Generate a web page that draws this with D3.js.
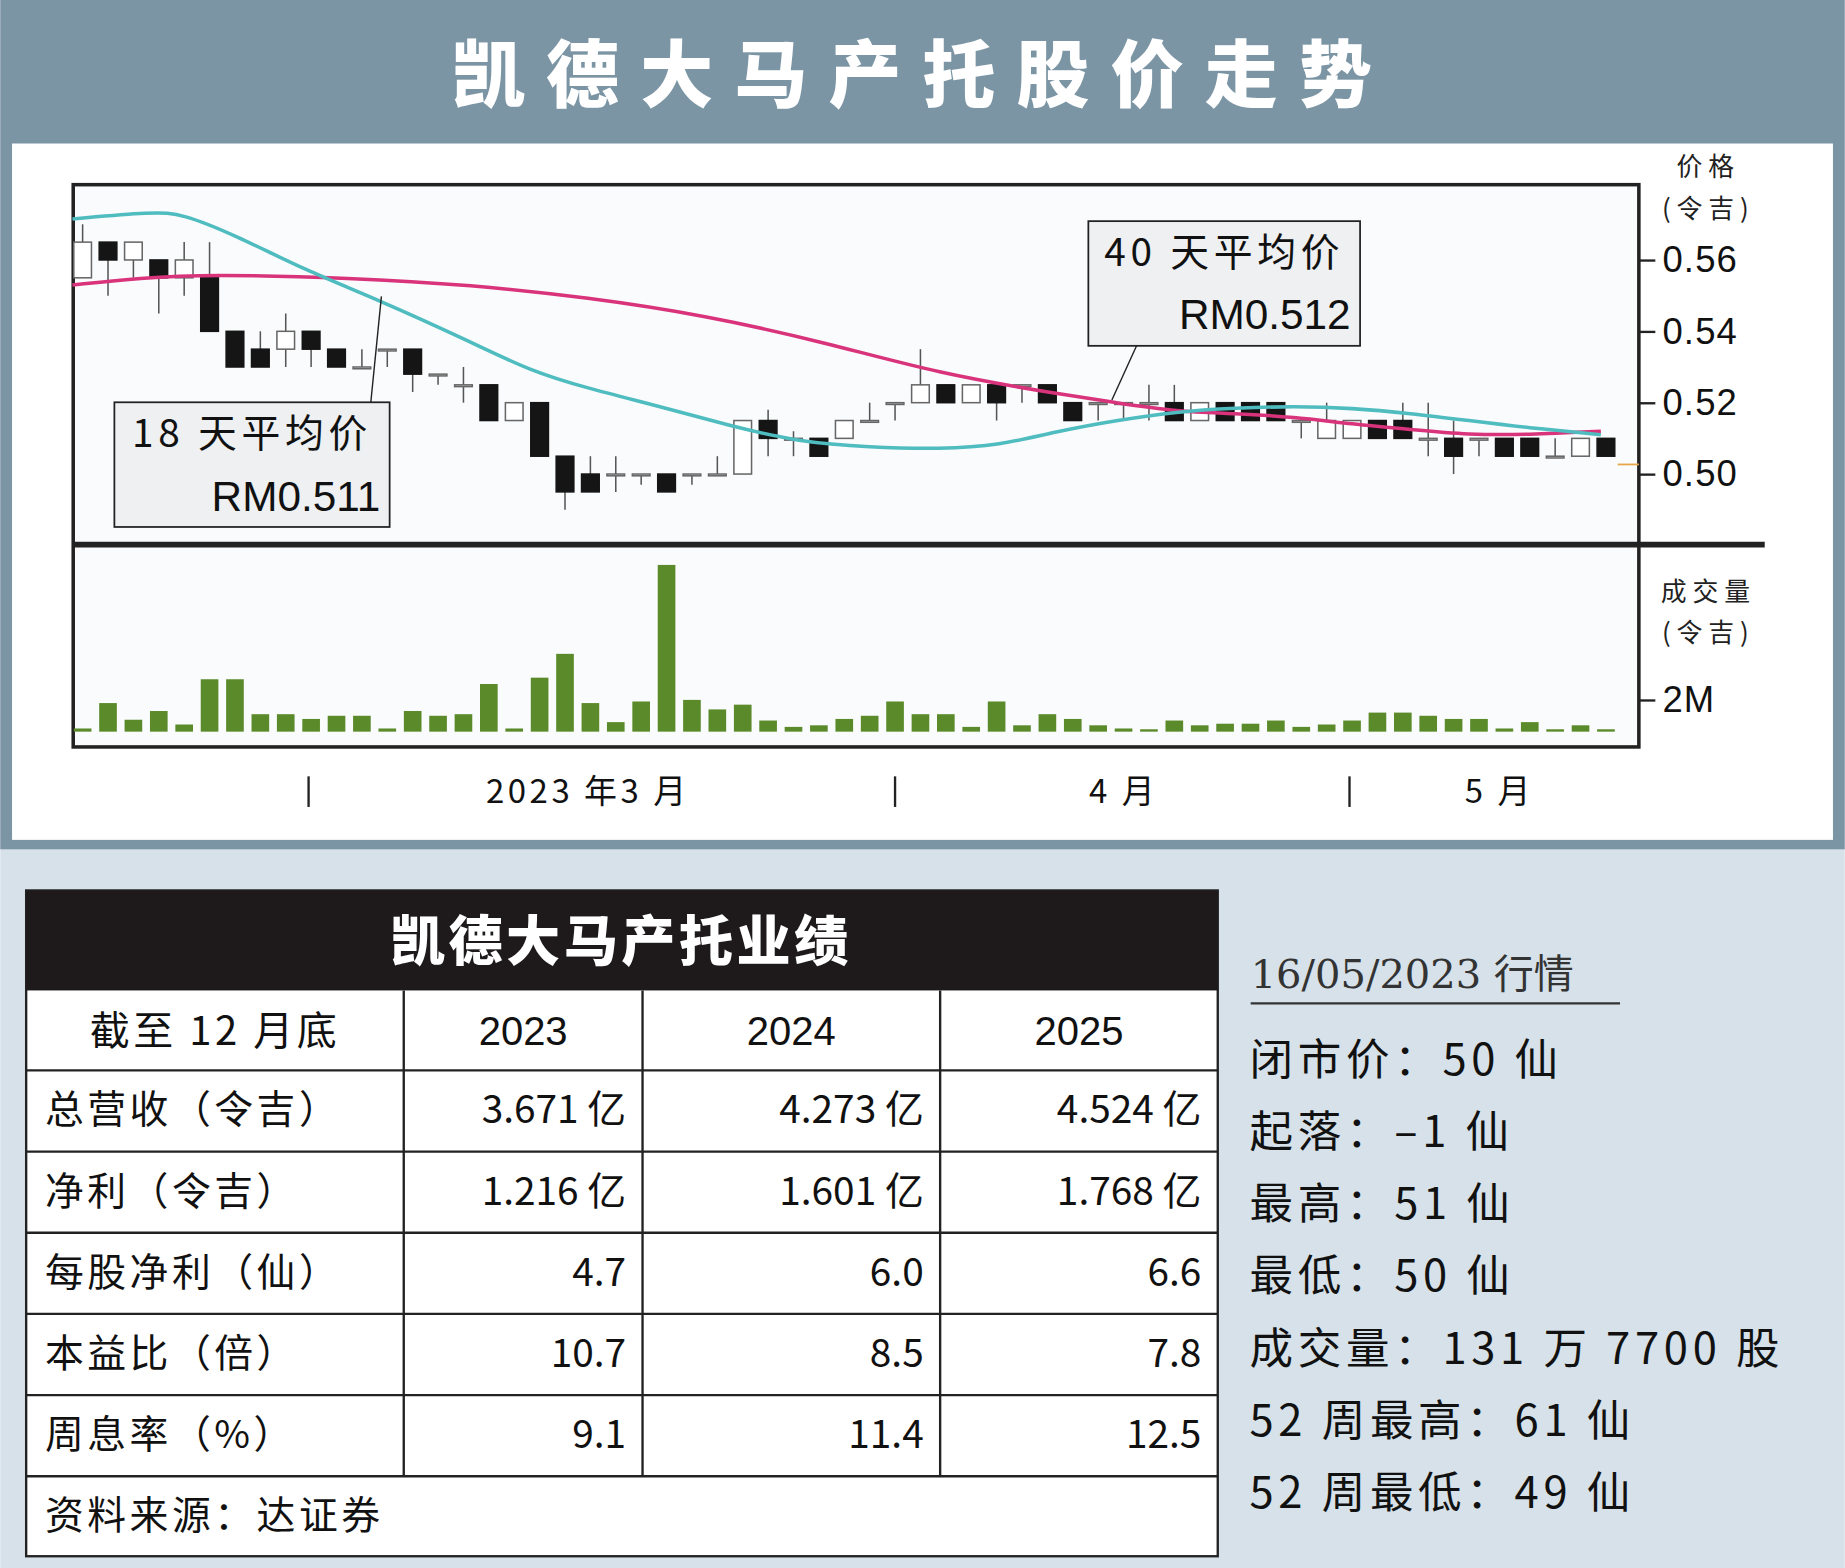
<!DOCTYPE html>
<html><head><meta charset="utf-8">
<script src="https://cdn.jsdelivr.net/npm/d3@7/dist/d3.min.js"></script>
<style>body{margin:0;background:#fff}svg{display:block}</style>
</head><body><div id="chart"></div>
<script>
// candles: open, close, high, low (RM)
const opens  = [.555,.565,.560,.560,.555,.555,.540,.535,.535,.540,.535,.530,.535,.535,.528,.525,.525,.515,.520,.505,.500,.500,.500,.500,.500,.500,.500,.515,.510,.510,.510,.515,.520,.520,.525,.520,.525,.525,.525,.520,.520,.520,.520,.520,.515,.520,.520,.520,.515,.510,.510,.515,.515,.510,.510,.510,.510,.510,.505,.505,.510];
const closes = [.565,.560,.565,.555,.560,.540,.530,.530,.540,.535,.530,.530,.535,.528,.528,.525,.515,.520,.505,.495,.495,.500,.500,.495,.500,.500,.515,.510,.510,.505,.515,.515,.520,.525,.520,.525,.520,.525,.520,.515,.520,.520,.520,.515,.520,.515,.515,.515,.515,.515,.515,.510,.510,.510,.505,.510,.505,.505,.505,.510,.505];
const highs  = [.570,.565,.565,.560,.565,.565,.540,.540,.545,.540,.535,.535,.535,.535,.528,.530,.525,.520,.520,.505,.505,.505,.500,.500,.500,.505,.515,.518,.512,.510,.515,.520,.520,.535,.525,.525,.525,.525,.525,.520,.520,.520,.525,.525,.520,.520,.520,.520,.515,.520,.515,.515,.520,.520,.515,.510,.510,.510,.510,.510,.510];
const lows   = [.555,.550,.555,.545,.550,.540,.530,.530,.530,.530,.530,.530,.530,.523,.525,.520,.515,.515,.505,.490,.495,.495,.497,.495,.497,.500,.500,.505,.505,.505,.510,.515,.515,.520,.520,.520,.515,.520,.520,.515,.515,.515,.515,.515,.515,.515,.515,.515,.510,.510,.510,.510,.510,.505,.500,.505,.505,.505,.505,.505,.505];
const volumes = [0.2,1.8,0.75,1.3,0.45,3.3,3.3,1.1,1.1,0.8,1.0,1.0,0.2,1.3,1.0,1.1,3.0,0.2,3.4,4.9,1.8,0.6,1.9,10.5,2.0,1.4,1.7,0.7,0.3,0.4,0.8,1.0,1.9,1.1,1.1,0.3,1.9,0.4,1.1,0.8,0.4,0.2,0.15,0.7,0.4,0.5,0.5,0.7,0.3,0.45,0.7,1.2,1.2,1.0,0.8,0.8,0.2,0.6,0.15,0.4,0.15];
// moving averages: [candle position, value]
const ma18 = [[-0.4,.5715],[2.8,.5735],[3.9,.5730],[6,.567],[8.8,.557],[11.6,.549],[15.3,.537],[17.6,.529],[19.9,.524],[22.7,.519],[25.5,.5135],[28.2,.509],[31,.5075],[33.8,.507],[36.1,.508],[38.4,.512],[40.7,.515],[43.1,.5175],[45.4,.5185],[47.7,.519],[50,.5185],[52.3,.517],[54.6,.515],[56.9,.513],[59.8,.511]];
const ma40 = [[-0.4,.553],[2.3,.555],[4.9,.556],[10.6,.555],[15.3,.553],[19.9,.5495],[24.5,.5445],[29.2,.537],[33.8,.528],[38.4,.5225],[40.7,.520],[43.1,.5175],[45.4,.517],[47.7,.516],[50,.514],[52.3,.5125],[54.6,.511],[56.9,.511],[59.8,.512]];
const priceTicks = [0.56, 0.54, 0.52, 0.50];
const months = [{pos: 19.9, label: "2023 年3 月"}, {pos: 41, label: "4 月"}, {pos: 55.8, label: "5 月"}];
const monthTicks = [8.9, 32, 49.9];
const tableHead = ["截至 12 月底", "2023", "2024", "2025"];
const tableRows = [
  ["总营收（令吉）", "3.671 亿", "4.273 亿", "4.524 亿"],
  ["净利（令吉）", "1.216 亿", "1.601 亿", "1.768 亿"],
  ["每股净利（仙）", "4.7", "6.0", "6.6"],
  ["本益比（倍）", "10.7", "8.5", "7.8"],
  ["周息率（%）", "9.1", "11.4", "12.5"]
];
const stats = ["闭市价：50 仙", "起落：–1 仙", "最高：51 仙", "最低：50 仙", "成交量：131 万 7700 股", "52 周最高：61 仙", "52 周最低：49 仙"];

const W = 1568, H = 1333;
const cjk = '"Noto Sans CJK SC", sans-serif';
const num = '"Liberation Sans", Arial, sans-serif';
const svg = d3.select('#chart').append('svg')
  .attr('width', 1845).attr('height', 1568)
  .attr('viewBox', `0 0 ${W} ${H}`);

// backgrounds
svg.append('rect').attr('width', W).attr('height', H).attr('fill', '#d6e1e9');
svg.append('rect').attr('x', 0).attr('y', 0).attr('width', W).attr('height', 722).attr('fill', '#7b95a4');
svg.append('rect').attr('x', 10).attr('y', 122).attr('width', 1548).attr('height', 592).attr('fill', '#fff');
svg.append('text').attr('x', 784).attr('y', 86).attr('text-anchor', 'middle')
  .attr('font-family', cjk).attr('font-weight', 900).attr('font-size', 62)
  .attr('letter-spacing', 18).attr('fill', '#fff').text('凯德大马产托股价走势');

// scales
const x = d3.scaleLinear().domain([0, 60]).range([70, 1365]);
const y = d3.scaleLinear().domain([0.50, 0.56]).range([403, 221]);
const yv = d3.scaleLinear().domain([0, 2]).range([622, 595]);

svg.append('rect').attr('x', 62).attr('y', 157).attr('width', 1331).attr('height', 478)
  .attr('fill', '#fafbfc').attr('stroke', '#222').attr('stroke-width', 3);

const cw = 15;
const candles = svg.append('g').selectAll('g').data(d3.range(opens.length)).enter().append('g');
candles.append('line')
  .attr('x1', i => x(i)).attr('x2', i => x(i))
  .attr('y1', i => y(highs[i])).attr('y2', i => y(lows[i]))
  .attr('stroke', '#555').attr('stroke-width', 1.3);
candles.append('rect')
  .attr('x', i => x(i) - cw / 2).attr('width', cw)
  .attr('y', i => y(Math.max(opens[i], closes[i])))
  .attr('height', i => Math.max(1.5, Math.abs(y(opens[i]) - y(closes[i]))))
  .attr('fill', i => closes[i] < opens[i] ? '#151515' : '#fff')
  .attr('stroke', i => closes[i] < opens[i] ? '#151515' : '#666')
  .attr('stroke-width', 1.3);

const line = d3.line().x(d => x(d[0])).y(d => y(d[1])).curve(d3.curveBasis);
svg.append('path').attr('d', line(ma40)).attr('fill', 'none').attr('stroke', '#d9337b').attr('stroke-width', 3);
svg.append('path').attr('d', line(ma18)).attr('fill', 'none').attr('stroke', '#4fbcc0').attr('stroke-width', 3);
svg.append('line').attr('x1', 1375).attr('x2', 1393).attr('y1', y(0.505) + 7).attr('y2', y(0.505) + 7)
  .attr('stroke', '#e8a64a').attr('stroke-width', 1.5);

// callouts
function callout(bx, by, bw, bh, t1, t2, lx1, ly1, lx2, ly2) {
  svg.append('line').attr('x1', lx1).attr('y1', ly1).attr('x2', lx2).attr('y2', ly2).attr('stroke', '#222').attr('stroke-width', 1.2);
  svg.append('rect').attr('x', bx).attr('y', by).attr('width', bw).attr('height', bh)
    .attr('fill', '#eef0f2').attr('stroke', '#222').attr('stroke-width', 1.5);
  svg.append('text').attr('x', bx + bw / 2).attr('y', by + 38).attr('text-anchor', 'middle')
    .attr('font-family', cjk).attr('font-size', 33).attr('letter-spacing', 4).attr('fill', '#111').text(t1);
  svg.append('text').attr('x', bx + bw - 8).attr('y', by + 92).attr('text-anchor', 'end')
    .attr('font-family', num).attr('font-size', 36).attr('fill', '#111').text(t2);
}
callout(97, 342, 234, 106, '18 天平均价', 'RM0.511', 315, 342, 324, 252);
callout(925, 188, 231, 106, '40 天平均价', 'RM0.512', 966, 294, 945, 340);

// volume
svg.append('g').selectAll('rect').data(volumes).enter().append('rect')
  .attr('x', (d, i) => x(i) - 7.5).attr('width', 15)
  .attr('y', d => yv(d)).attr('height', d => yv(0) - yv(d))
  .attr('fill', '#5b8a2b');

// separator
svg.append('line').attr('x1', 62).attr('x2', 1500).attr('y1', 463).attr('y2', 463).attr('stroke', '#222').attr('stroke-width', 5);

// axes
const ay = svg.append('g').attr('transform', 'translate(1393,0)')
  .call(d3.axisRight(y).tickValues(priceTicks).tickFormat(d3.format('.2f')).tickSize(14).tickPadding(6));
const av = svg.append('g').attr('transform', 'translate(1393,0)')
  .call(d3.axisRight(yv).tickValues([2]).tickFormat(() => '2M').tickSize(14).tickPadding(6));
[ay, av].forEach(a => {
  a.select('.domain').remove();
  a.selectAll('line').attr('stroke', '#222').attr('stroke-width', 2);
  a.selectAll('text').attr('font-family', num).attr('font-size', 31).attr('letter-spacing', 1).attr('fill', '#111');
});
function unit(ty, t1) {
  svg.append('text').attr('x', 1452).attr('y', ty).attr('text-anchor', 'middle').attr('font-family', cjk)
    .attr('font-size', 22).attr('letter-spacing', 5).attr('fill', '#222').text(t1);
  svg.append('text').attr('x', 1452).attr('y', ty + 35).attr('text-anchor', 'middle').attr('font-family', cjk)
    .attr('font-size', 22).attr('letter-spacing', 5).attr('fill', '#222').text('(令吉)');
}
unit(150, '价格');
unit(511, '成交量');

svg.append('g').selectAll('line').data(monthTicks).enter().append('line')
  .attr('x1', d => x(d)).attr('x2', d => x(d)).attr('y1', 660).attr('y2', 686)
  .attr('stroke', '#222').attr('stroke-width', 2);
svg.append('g').selectAll('text').data(months).enter().append('text')
  .attr('x', d => x(d.pos)).attr('y', 683).attr('text-anchor', 'middle')
  .attr('font-family', cjk).attr('font-size', 28).attr('letter-spacing', 3).attr('fill', '#111').text(d => d.label);

// table
const cols = [22, 343, 546, 799, 1035];
const rowY = [842, 910, 979, 1048, 1117, 1186, 1255, 1323];
svg.append('rect').attr('x', 22).attr('y', 757).attr('width', 1013).attr('height', 566)
  .attr('fill', '#fff').attr('stroke', '#222').attr('stroke-width', 2);
svg.append('rect').attr('x', 22).attr('y', 757).attr('width', 1013).attr('height', 85).attr('fill', '#1e1a1b');
svg.append('text').attr('x', 528).attr('y', 817).attr('text-anchor', 'middle').attr('font-family', cjk)
  .attr('font-weight', 900).attr('font-size', 46).attr('letter-spacing', 3).attr('fill', '#fff').text('凯德大马产托业绩');
rowY.slice(1, 7).forEach(yy => svg.append('line').attr('x1', 22).attr('x2', 1035).attr('y1', yy).attr('y2', yy).attr('stroke', '#222').attr('stroke-width', 2));
cols.slice(1, 4).forEach(xx => svg.append('line').attr('x1', xx).attr('x2', xx).attr('y1', 842).attr('y2', 1255).attr('stroke', '#222').attr('stroke-width', 2));
tableHead.forEach((t, j) => svg.append('text')
  .attr('x', (cols[j] + cols[j + 1]) / 2).attr('y', 888).attr('text-anchor', 'middle')
  .attr('font-family', j ? num : cjk).attr('font-size', 34).attr('letter-spacing', j ? 0 : 3).attr('fill', '#111').text(t));
tableRows.forEach((r, i) => r.forEach((t, j) => svg.append('text')
  .attr('x', j ? cols[j + 1] - 14 : 38).attr('y', rowY[i + 1] + 45)
  .attr('text-anchor', j ? 'end' : 'start')
  .attr('font-family', cjk).attr('font-size', 33).attr('letter-spacing', j ? 0 : 3).attr('fill', '#111').text(t)));
svg.append('text').attr('x', 38).attr('y', 1300).attr('font-family', cjk).attr('font-size', 33)
  .attr('letter-spacing', 3).attr('fill', '#111').text('资料来源：达证券');

// stats
svg.append('text').attr('x', 1063).attr('y', 840).attr('font-family', '"DejaVu Serif", "Noto Sans CJK SC", serif')
  .attr('font-size', 34).attr('fill', '#333').text('16/05/2023 行情');
svg.append('line').attr('x1', 1063).attr('x2', 1377).attr('y1', 853).attr('y2', 853).attr('stroke', '#333').attr('stroke-width', 2);
svg.append('g').selectAll('text').data(stats).enter().append('text')
  .attr('x', 1062).attr('y', (d, i) => 914 + i * 61.3)
  .attr('font-family', cjk).attr('font-size', 37).attr('letter-spacing', 4).attr('fill', '#111').text(d => d);
</script></body></html>
